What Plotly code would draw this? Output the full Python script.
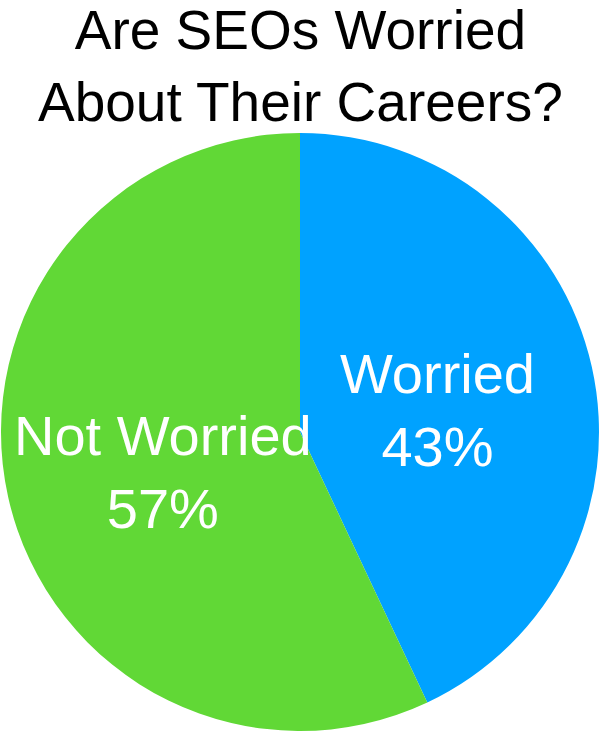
import math
import plotly.graph_objects as go

# survey answers
labels = ["Worried", "Not Worried"]
shares = [43, 57]
colors = ["#00A2FF", "#61D836"]

title_lines = ["Are SEOs Worried", "About Their Careers?"]

W, H = 600, 733
M_TOP, M_BOT = 133, 2
FONT = "Liberation Sans, Arial, sans-serif"

fig = go.Figure()
fig.add_trace(go.Pie(
    labels=labels,
    values=shares,
    marker=dict(colors=colors, line=dict(width=0)),
    sort=False,
    direction="clockwise",
    rotation=0,
    textinfo="none",
    hoverinfo="label+percent",
    showlegend=False,
))

# slice labels placed at each slice's mid angle
plot_h = H - M_TOP - M_BOT
radius = min(W, plot_h) / 2
total = sum(shares)
start = 0.0
for name, v in zip(labels, shares):
    mid = (start + v / 2) / total * 2 * math.pi
    start += v
    r = 0.47 * radius
    dx = math.sin(mid) * r
    dy = math.cos(mid) * r
    fig.add_annotation(
        x=0.5 + dx / W, y=0.5 + dy / plot_h - 0.015,
        xref="paper", yref="paper",
        text=f"{name}<br>{round(v / total * 100)}%",
        showarrow=False,
        font=dict(family=FONT, size=56, color="white"),
        xanchor="center", yanchor="middle",
    )

fig.add_annotation(
    x=0.5, y=(H - M_BOT + 3) / plot_h,
    xref="paper", yref="paper",
    text="<br>".join(title_lines),
    showarrow=False,
    font=dict(family=FONT, size=55, color="black"),
    xanchor="center", yanchor="top",
)

fig.update_layout(
    width=W,
    height=H,
    margin=dict(l=0, r=0, t=M_TOP, b=M_BOT),
    paper_bgcolor="white",
    plot_bgcolor="white",
)

fig.write_html("out.html", config={"displayModeBar": False},
               post_script="document.body.style.margin='0';")
